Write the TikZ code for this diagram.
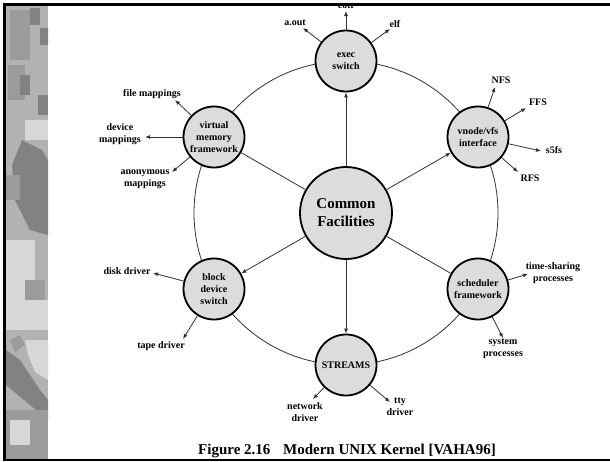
\documentclass[tikz,border=0pt]{standalone}
\usepackage{fontspec}
\setmainfont{Liberation Serif}
\usetikzlibrary{arrows.meta}
\definecolor{nodegray}{RGB}{220,220,220}
\definecolor{linegray}{RGB}{50,50,50}
\definecolor{stripbase}{RGB}{178,178,178}
\definecolor{stripdark}{RGB}{130,130,130}
\definecolor{stripmid}{RGB}{155,155,155}
\definecolor{striplight}{RGB}{215,215,215}
\begin{document}
\begin{tikzpicture}[x=1pt,y=-1pt,
  sat/.style={circle,draw=black,line width=1.8pt,fill=nodegray,minimum size=61pt,inner sep=0pt,align=center,font=\fontsize{10}{12}\selectfont\bfseries},
  hub/.style={circle,draw=black,line width=1.8pt,fill=nodegray,minimum size=92pt,inner sep=0pt,align=center,font=\fontsize{15}{18}\selectfont\bfseries},
  lbl/.style={align=center,inner sep=0pt,font=\fontsize{10}{12}\selectfont\bfseries},
  arr/.style={line width=0.8pt,draw=linegray,-{Latex[length=5pt,width=4pt]}},
  link/.style={line width=0.8pt,draw=linegray},
  ring/.style={line width=0.8pt,draw=linegray},
]
\useasboundingbox (0,0) rectangle (610,461);
\fill[white] (0,0) rectangle (610,461);

% textured strip on the left
\begin{scope}
\clip (6,6) rectangle (48,459);
\fill[stripbase] (6,6) rectangle (48,459);
\fill[stripmid] (10,10) rectangle (30,60);
\fill[stripdark] (30,8) rectangle (40,25);
\fill[stripdark] (40,28) rectangle (50,45);
\fill[stripmid] (8,65) rectangle (25,100);
\fill[stripdark] (20,75) rectangle (30,95);
\fill[stripdark] (38,95) rectangle (48,115);
\fill[striplight] (25,120) rectangle (48,140);
\fill[stripdark] (22,140) -- (42,150) -- (48,160) -- (48,235) -- (30,230) -- (15,200) -- (12,165) -- cycle;
\fill[stripmid] (6,175) rectangle (20,200);
\fill[stripdark] (38,195) rectangle (48,215);
\fill[striplight] (6,240) rectangle (35,300);
\fill[stripmid] (25,280) rectangle (45,300);
\fill[striplight] (6,300) rectangle (48,330);
\fill[stripmid] (10,340) -- (20,335) -- (25,345) -- (15,352) -- cycle;
\fill[striplight] (25,340) -- (48,340) -- (48,380) -- (35,372) -- (28,355) -- cycle;
\fill[stripdark] (6,350) -- (20,360) -- (40,390) -- (48,400) -- (48,420) -- (30,405) -- (6,385) -- cycle;
\fill[stripmid] (6,410) rectangle (48,459);
\fill[striplight] (10,420) rectangle (30,445);
\end{scope}

% ring
\draw[ring] (346,213) circle[radius=152];

% nodes
\node[hub] (cf) at (346,213) {Common\\Facilities};
\node[sat] (exec) at (346,61) {exec\\switch};
\node[sat] (vfs) at (478,137) {vnode/vfs\\interface};
\node[sat] (sched) at (478,289) {scheduler\\framework};
\node[sat] (streams) at (346,365) {STREAMS};
\node[sat] (block) at (214,289) {block\\device\\switch};
\node[sat] (vm) at (214,137) {virtual\\memory\\framework};

% hub connections
\draw[arr] (cf) -- (exec);
\draw[arr] (cf) -- (vfs);
\draw[link] (cf) -- (sched);
\draw[arr] (cf) -- (streams);
\draw[arr] (cf) -- (block);
\draw[link] (cf) -- (vm);

% labels
\node[lbl] (coff) at (346,5) {coff};
\node[lbl] (aout) at (295,23) {a.out};
\node[lbl] (elf) at (395,24) {elf};
\node[lbl] (nfs) at (501,80) {NFS};
\node[lbl] (ffs) at (538,102) {FFS};
\node[lbl] (s5fs) at (554,150) {s5fs};
\node[lbl] (rfs) at (530,178) {RFS};
\node[lbl] (ts) at (553,273) {time-sharing\\processes};
\node[lbl] (sys) at (503,349) {system\\processes};
\node[lbl] (tty) at (400,407) {tty\\driver};
\node[lbl] (net) at (305,412) {network\\driver};
\node[lbl] (tape) at (161,346) {tape driver};
\node[lbl] (disk) at (127,271) {disk driver};
\node[lbl] (anon) at (145,179) {anonymous\\mappings};
\node[lbl] (dev) at (120,134) {device\\mappings};
\node[lbl] (file) at (152,94) {file mappings};

% arrow tips
\coordinate (tcoff) at (346,11);
\coordinate (taout) at (303,28);
\coordinate (telf) at (390,29);
\coordinate (tnfs) at (495,87);
\coordinate (tffs) at (526,108);
\coordinate (ts5fs) at (541,151);
\coordinate (trfs) at (518,172);
\coordinate (tts) at (528,274);
\coordinate (tsys) at (503,338);
\coordinate (ttty) at (390,402);
\coordinate (tnet) at (313,399);
\coordinate (ttape) at (183,339);
\coordinate (tdisk) at (153,273);
\coordinate (tanon) at (172,172);
\coordinate (tdev) at (145,137);
\coordinate (tfile) at (175,100);

\draw[arr] (exec) -- (tcoff);
\draw[arr] (exec) -- (taout);
\draw[arr] (exec) -- (telf);
\draw[arr] (vfs) -- (tnfs);
\draw[arr] (vfs) -- (tffs);
\draw[arr] (vfs) -- (ts5fs);
\draw[arr] (vfs) -- (trfs);
\draw[arr] (sched) -- (tts);
\draw[arr] (sched) -- (tsys);
\draw[arr] (streams) -- (ttty);
\draw[arr] (streams) -- (tnet);
\draw[arr] (block) -- (ttape);
\draw[arr] (block) -- (tdisk);
\draw[arr] (vm) -- (tanon);
\draw[arr] (vm) -- (tdev);
\draw[arr] (vm) -- (tfile);

% caption
\node[font=\fontsize{15}{18}\selectfont\bfseries] (cap) at (347,451) {Figure 2.16\hspace{9pt} Modern UNIX Kernel [VAHA96]};

% frame
\fill[white] (0,0) rectangle (610,3);
\fill[black] (3,3) rectangle (610,6);
\fill[black] (3,3) rectangle (6,461);
\fill[black] (3,458.6) rectangle (610,461);
\end{tikzpicture}
\end{document}
